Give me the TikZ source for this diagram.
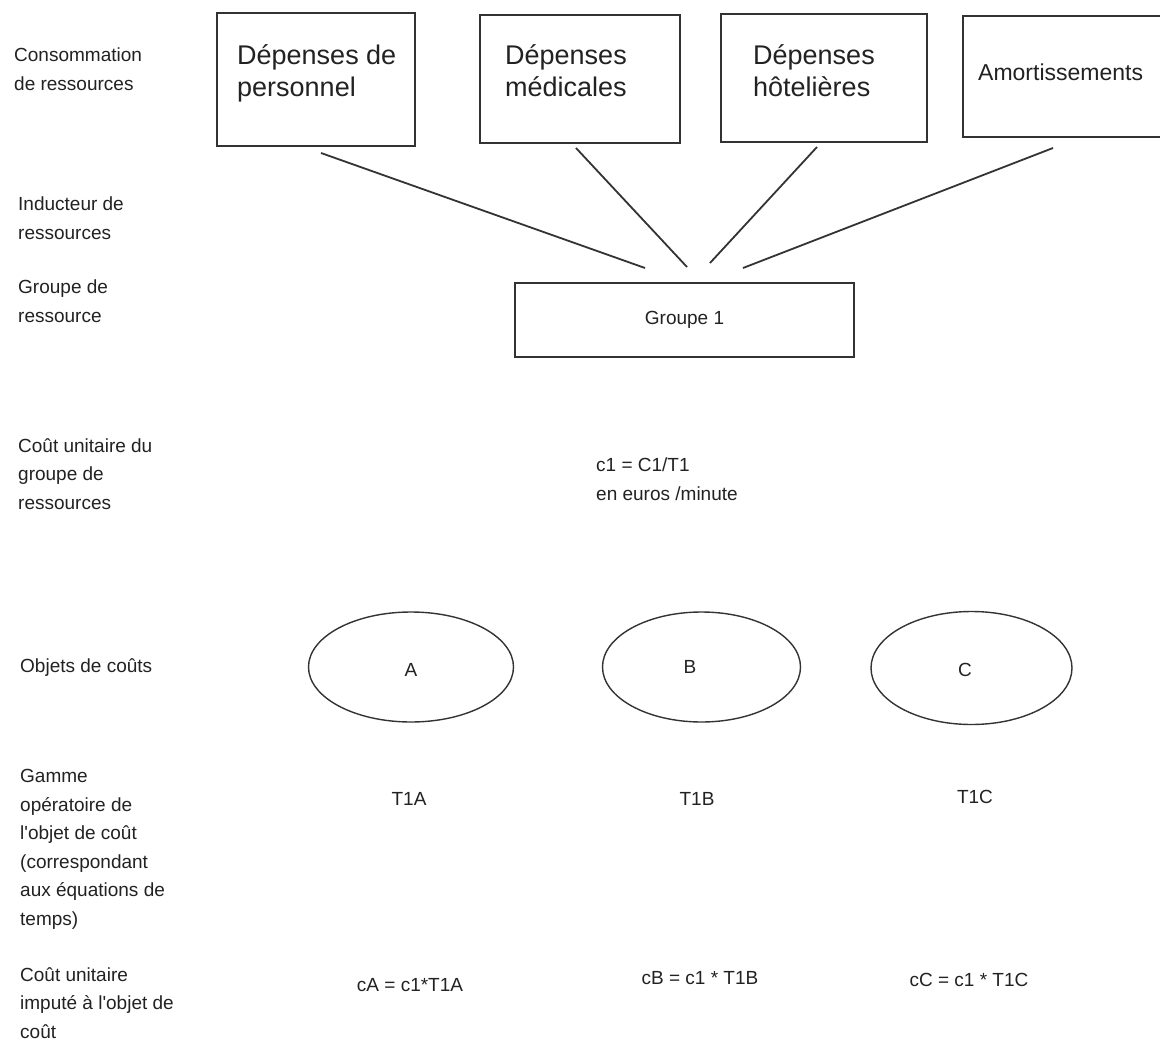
\documentclass[tikz,border=0pt]{standalone}
\usepackage{fontspec}
\setmainfont{Liberation Sans}
\usetikzlibrary{shapes.geometric}
\definecolor{ink}{HTML}{222222}
\definecolor{edge}{HTML}{333333}
\begin{document}
\begin{tikzpicture}[x=1pt,y=-1pt,
  lbl/.style={font=\fontsize{19}{28.6}\selectfont, text=ink, align=left, anchor=north west, inner sep=0pt},
  big/.style={font=\fontsize{27}{32}\selectfont, text=ink, align=left, anchor=north west, inner sep=0pt},
  mid/.style={font=\fontsize{19}{28.6}\selectfont, text=ink, inner sep=0pt},
  box/.style={draw=edge, line width=2pt, rectangle, inner sep=0pt},
  obj/.style={draw=edge, line width=1.4pt, ellipse, inner sep=0pt},
  link/.style={draw=edge, line width=1.8pt}]
\useasboundingbox (0,0) rectangle (1160,1041);
\fill[white] (0,0) rectangle (1160,1041);

% left column
\node[lbl] (l1) at (14,48) {Consommation\\de ressources};
\node[lbl] (l2) at (18,197) {Inducteur de\\ressources};
\node[lbl] (l3) at (18,280) {Groupe de\\ressource};
\node[lbl] (l4) at (18,438) {Coût unitaire du\\groupe de\\ressources};
\node[lbl] (l5) at (20,658) {Objets de coûts};
\node[lbl] (l6) at (20,769) {Gamme\\opératoire de\\l\textquotesingle objet de coût\\(correspondant\\aux équations de\\temps)};
\node[lbl] (l7) at (20,967) {Coût unitaire\\imputé à l\textquotesingle objet de\\coût};

% resource boxes
\node[box, minimum width=198pt, minimum height=133pt] (b1) at (316,79.5) {};
\node[box, minimum width=200pt, minimum height=128pt] (b2) at (580,79) {};
\node[box, minimum width=206pt, minimum height=128pt] (b3) at (824,78) {};
\node[box, minimum width=207pt, minimum height=121pt] (b4) at (1066.5,76.5) {};
\node[big] (t1) at (237,44) {Dépenses de\\personnel};
\node[big] (t2) at (505,44) {Dépenses\\médicales};
\node[big] (t3) at (753,44) {Dépenses\\hôtelières};
\node[mid, font=\fontsize{23}{27}\selectfont, anchor=west] (t4) at (978,72) {Amortissements};

% group box
\node[box, minimum width=339pt, minimum height=74pt, font=\fontsize{19}{24}\selectfont, text=ink] (g1) at (684.5,320) {Groupe 1};

% connectors
\coordinate (s1) at (321,153); \coordinate (e1) at (645,268);
\coordinate (s2) at (576,148); \coordinate (e2) at (687,267);
\coordinate (s3) at (817,147); \coordinate (e3) at (710,263);
\coordinate (s4) at (1053,148); \coordinate (e4) at (743,268);
\draw[link] (s1) -- (e1);
\draw[link] (s2) -- (e2);
\draw[link] (s3) -- (e3);
\draw[link] (s4) -- (e4);

% unit cost
\node[lbl] (uc) at (596,458) {c1 = C1/T1\\en euros /minute};

% cost objects
\node[obj, minimum width=205pt, minimum height=110pt] (oa) at (411,667) {};
\node[obj, minimum width=198pt, minimum height=110pt] (ob) at (701.5,667) {};
\node[obj, minimum width=201pt, minimum height=113pt] (oc) at (971.5,668) {};
\node[mid] (la) at (411,670) {A};
\node[mid] (lb) at (690,667) {B};
\node[mid] (lc) at (965,670) {C};

% operating ranges
\node[mid] (ta) at (409,799) {T1A};
\node[mid] (tb) at (697,799) {T1B};
\node[mid] (tc) at (975,797) {T1C};

% imputed costs
\node[mid] (ca) at (410,985) {cA = c1*T1A};
\node[mid] (cb) at (700,978) {cB = c1 * T1B};
\node[mid] (cc) at (969,980) {cC = c1 * T1C};
\end{tikzpicture}
\end{document}
